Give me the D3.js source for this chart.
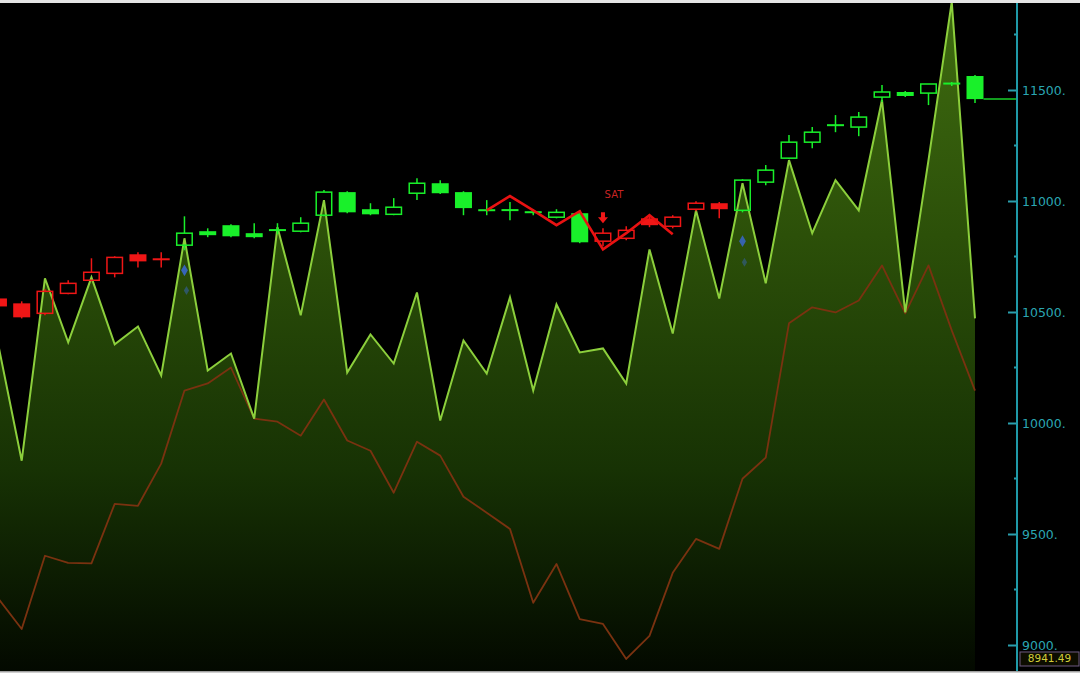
<!DOCTYPE html>
<html><head><meta charset="utf-8">
<script src="https://cdn.jsdelivr.net/npm/d3@7"></script>
<style>html,body{margin:0;padding:0;background:#fff;}svg{display:block}</style>
</head><body><svg id="c" width="1080" height="679"></svg>
<script>
// ---------- data ----------
const sessions = d3.range(43);
const open  = [10561,10539,10494,10584,10643,10674,10760,10740,10801,10864,10891,10855,10870,10864,10936,11040,10963,10940,11035,11080,11040,10961,10960,10954,10927,10945,10819,10832,10922,10886,10963,10990,10958,11085,11193,11265,11343,11333,11468,11491,11486,11530,11563];
const high  = [10570,10548,10602,10643,10742,10751,10769,10769,10931,10877,10895,10900,10900,10927,11049,11044,10990,11013,11103,11094,11044,11004,10995,10963,10963,10958,10877,10886,10931,10936,10999,10995,11098,11162,11297,11333,11387,11401,11523,11495,11527,11536,11568];
const low   = [10516,10471,10485,10580,10638,10656,10701,10701,10778,10837,10837,10832,10850,10859,10931,10945,10936,10936,11004,11031,10936,10936,10913,10936,10922,10810,10796,10823,10882,10877,10954,10922,10949,11071,11189,11238,11310,11292,11446,11468,11432,11518,11441];
const close = [10525,10476,10593,10629,10679,10746,10728,10735,10855,10846,10841,10837,10868,10900,11040,10949,10940,10972,11080,11035,10968,10956,10958,10945,10949,10814,10855,10868,10891,10927,10990,10963,11094,11139,11265,11310,11340,11378,11491,11473,11527,11528,11459];
const trend = ["dn","dn","dn","dn","dn","dn","dn","dn","up","up","up","up","up","up","up","up","up","up","up","up","up","up","up","up","up","up","dn","dn","dn","dn","dn","dn","up","up","up","up","up","up","up","up","up","up","up"];
const oscA = [10349,9830,10652,10363,10656,10354,10435,10214,10832,10236,10313,10020,10882,10485,11004,10227,10399,10268,10588,10011,10372,10223,10566,10146,10534,10318,10336,10178,10782,10403,10958,10561,11080,10629,11184,10855,11094,10958,11455,10498,11184,11897,10471];
const oscB = [9208,9072,9402,9370,9368,9636,9627,9817,10146,10178,10250,10020,10006,9943,10106,9921,9875,9686,9916,9853,9668,9596,9523,9190,9365,9117,9095,8937,9041,9325,9478,9433,9749,9844,10449,10521,10498,10552,10710,10494,10710,10417,10146];
const stopIdx = [21,22,23,24,25,26,27,28,29];
const stopVal = [10958,11022,10958,10891,10954,10782,10855,10936,10850];
const blueIdx = [8,8,32,32];
const blueVal = [10688,10597,10819,10724];
const blueAlpha = [0.85,0.45,0.8,0.4];
const signalIdx = 26, signalVal = 10922, signalText = "SAT";
const majorTicks = [9000,9500,10000,10500,11000,11500];
const minorTicks = [9250,9750,10250,10750,11250,11750];
const cursorValue = 8941.49;

// ---------- layout ----------
const W = 1080, H = 679, plotTop = 3, plotBottom = 671, axisX = 1017;
const svg = d3.select("#c");
const x = d3.scaleLinear().domain([0, sessions.length - 1]).range([-1.55, 975]);
const y = d3.scaleLinear().domain([9000, 11500]).range([645, 90]);

svg.append("rect").attr("x",0).attr("y",0).attr("width",W).attr("height",plotTop).attr("fill","#e4e4e4");
svg.append("rect").attr("x",0).attr("y",plotTop).attr("width",W).attr("height",plotBottom-plotTop).attr("fill","#000");
svg.append("rect").attr("x",0).attr("y",plotBottom).attr("width",W).attr("height",1.5).attr("fill","#a0a0a0");

const defs = svg.append("defs");
const g = defs.append("linearGradient").attr("id","ag").attr("gradientUnits","userSpaceOnUse")
  .attr("x1",0).attr("y1",0).attr("x2",0).attr("y2",plotBottom);
[[0,"#3f6c10"],[0.35,"#2c5009"],[0.7,"#173204"],[1,"#030900"]].forEach(s=>g.append("stop").attr("offset",s[0]).attr("stop-color",s[1]));
defs.append("clipPath").attr("id","pc").append("rect").attr("x",0).attr("y",plotTop).attr("width",axisX).attr("height",plotBottom-plotTop);

const plot = svg.append("g").attr("clip-path","url(#pc)");

// area
plot.append("path").datum(oscA)
  .attr("d", d3.area().x((d,i)=>x(i)).y0(plotBottom).y1(d=>y(d)))
  .attr("fill","url(#ag)");
// orange line
plot.append("path").datum(oscB)
  .attr("d", d3.line().x((d,i)=>x(i)).y(d=>y(d)))
  .attr("fill","none").attr("stroke","#7a3210").attr("stroke-width",1.8).attr("stroke-linejoin","round");
// area outline
plot.append("path").datum(oscA)
  .attr("d", d3.line().x((d,i)=>x(i)).y(d=>y(d)))
  .attr("fill","none").attr("stroke","#8ccf3c").attr("stroke-width",2).attr("stroke-linejoin","miter");

// candles
const col = {up:"#19f02a", dn:"#f01616"};
const bw = 17;
const cg = plot.append("g");
sessions.forEach(i=>{
  const c = col[trend[i]];
  const cx = x(i);
  const bull = close[i] > open[i];
  let top = y(Math.max(open[i],close[i])), bot = y(Math.min(open[i],close[i]));
  if (bot - top < 2) { const m=(top+bot)/2; top=m-1; bot=m+1; }
  if (bull) {
    cg.append("line").attr("x1",cx).attr("x2",cx).attr("y1",y(high[i])).attr("y2",top).attr("stroke",c).attr("stroke-width",1.5);
    cg.append("line").attr("x1",cx).attr("x2",cx).attr("y1",bot).attr("y2",y(low[i])).attr("stroke",c).attr("stroke-width",1.5);
    cg.append("rect").attr("x",cx-bw/2+0.75).attr("y",top).attr("width",bw-1.5).attr("height",bot-top)
      .attr("fill","none").attr("stroke",c).attr("stroke-width",1.5);
  } else {
    cg.append("line").attr("x1",cx).attr("x2",cx).attr("y1",y(high[i])).attr("y2",y(low[i])).attr("stroke",c).attr("stroke-width",1.5);
    cg.append("rect").attr("x",cx-bw/2).attr("y",top).attr("width",bw).attr("height",bot-top).attr("fill",c);
  }
});

// stop line
plot.append("path").datum(stopIdx.map((d,k)=>[d,stopVal[k]]))
  .attr("d", d3.line().x(d=>x(d[0])).y(d=>y(d[1])))
  .attr("fill","none").attr("stroke","#e81212").attr("stroke-width",2.6);

// blue markers
blueIdx.forEach((d,k)=>{
  plot.append("path").attr("d", d3.symbol().type(d3.symbolDiamond).size(k%2? 24:40)())
    .attr("transform",`translate(${x(d)+(k%2?2:0)},${y(blueVal[k])})`)
    .attr("fill","#3a68d8").attr("opacity",blueAlpha[k]);
});

// signal arrow + label
const sx = x(signalIdx), sy = y(signalVal);
plot.append("path").attr("d",`M${sx-2},${sy-6}h4v5h3l-5,6l-5,-6h3z`).attr("fill","#f01818");
plot.append("text").attr("x",sx+11).attr("y",sy-20).attr("text-anchor","middle")
  .attr("font-family","DejaVu Sans").attr("font-size",10).attr("fill","#c82424").text(signalText);

// last price line
const li = sessions.length-1;
svg.append("line").attr("x1",x(li)+bw/2).attr("x2",axisX).attr("y1",y(close[li])).attr("y2",y(close[li]))
  .attr("stroke","#19d02a").attr("stroke-width",1.5);

// axis
const ax = svg.append("g").attr("transform",`translate(${axisX},0)`)
  .call(d3.axisRight(y).tickValues(majorTicks).tickSize(-9).tickPadding(5).tickFormat(d=>d+"."));
ax.select(".domain").remove();
ax.selectAll(".tick line").attr("stroke","#2a9ead").attr("stroke-width",2);
ax.selectAll(".tick text").attr("fill","#2aa6b2").attr("font-family","DejaVu Sans").attr("font-size",12.5);
svg.append("g").selectAll("line").data(minorTicks).join("line")
  .attr("x1",axisX-3).attr("x2",axisX).attr("y1",d=>y(d)).attr("y2",d=>y(d))
  .attr("stroke","#2a9ead").attr("stroke-width",2);
svg.append("line").attr("x1",axisX).attr("x2",axisX).attr("y1",plotTop).attr("y2",plotBottom)
  .attr("stroke","#1f9aa8").attr("stroke-width",2);

// cursor value box
const cy = y(cursorValue);
svg.append("rect").attr("x",1020).attr("y",cy-6).attr("width",59).attr("height",14)
  .attr("fill","#0d0d00").attr("stroke","#6e5a80").attr("stroke-width",1);
svg.append("text").attr("x",1049.5).attr("y",cy+1).attr("text-anchor","middle").attr("dominant-baseline","middle")
  .attr("font-family","DejaVu Sans").attr("font-size",10.5).attr("fill","#d2cc3a").text(cursorValue.toFixed(2));
</script></body></html>
